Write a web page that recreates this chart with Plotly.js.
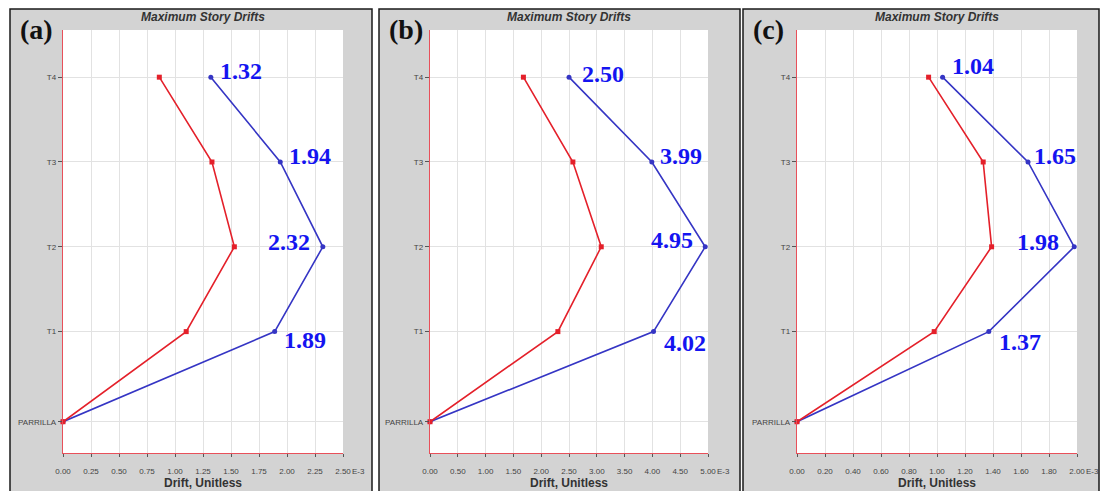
<!DOCTYPE html>
<html>
<head>
<meta charset="utf-8">
<script src="https://cdn.plot.ly/plotly-3.0.1.min.js"></script>
<style>
  html, body { margin: 0; padding: 0; background: #ffffff; }
  #chart { width: 1100px; height: 491px; }
</style>
</head>
<body>
<div id="chart"></div>
<script>
// Story levels (tick labels) and their elevations in metres
const storyLabels = ['PARRILLA', 'T1', 'T2', 'T3', 'T4'];
const storyElevations = [0, 3.4, 6.6, 9.8, 13.0];

// Maximum story drifts (x 1E-3), one red and one blue series per case
const driftBlueA = [0, 1.89, 2.32, 1.94, 1.32];
const driftRedA  = [0, 1.10, 1.53, 1.33, 0.86];
const driftBlueB = [0, 4.02, 4.95, 3.99, 2.50];
const driftRedB  = [0, 2.30, 3.08, 2.57, 1.68];
const driftBlueC = [0, 1.37, 1.98, 1.65, 1.04];
const driftRedC  = [0, 0.98, 1.39, 1.33, 0.94];

// Case tags and axis extents
const caseTags = ['(a)', '(b)', '(c)'];
const axisMax  = [2.5, 5.0, 2.0];
const axisStep = [0.25, 0.5, 0.2];

const W = 1100, H = 491;
const px = x => x / W;
const py = y => (H - y) / H;

// Frame geometry in page pixels
const plotTop = 30, plotBottom = 453;
const panelTop = 9;
const panelBox = [[10, 372], [379, 740], [743, 1099]];
const plotBox  = [[63, 343], [430, 708], [797, 1077]];
// label offsets (px) for the blue values, stories T1..T4
const labelOffsets = [
  [[30, -8], [-34, 5], [30, 6], [30, 6]],
  [[31, -11], [-33, 7], [29, 6], [34, 3]],
  [[31, -10], [-36, 5], [27, 6], [30, 11]]
];

const blueSets = [driftBlueA, driftBlueB, driftBlueC];
const redSets  = [driftRedA, driftRedB, driftRedC];

const RED = '#e4202a', BLUE = '#3535c4', LABEL_BLUE = '#1414f0';
const sans = 'Liberation Sans, Arial, sans-serif';
const serif = 'Liberation Serif, Times New Roman, serif';

const traces = [];
const shapes = [];
const annotations = [];
const layout = {
  width: W, height: H,
  margin: {l: 0, r: 0, t: 0, b: 0},
  paper_bgcolor: '#ffffff',
  plot_bgcolor: '#ffffff',
  showlegend: false,
  shapes: shapes,
  annotations: annotations
};

for (let i = 0; i < 3; i++) {
  const n = i === 0 ? '' : String(i + 1);
  const xa = 'x' + n, ya = 'y' + n;

  traces.push({
    x: blueSets[i], y: storyElevations, xaxis: xa, yaxis: ya,
    type: 'scatter', mode: 'lines+markers',
    line: {color: BLUE, width: 1.6},
    marker: {color: BLUE, size: 5, symbol: 'circle'},
    cliponaxis: false, hoverinfo: 'skip'
  });
  traces.push({
    x: redSets[i], y: storyElevations, xaxis: xa, yaxis: ya,
    type: 'scatter', mode: 'lines+markers',
    line: {color: RED, width: 1.6},
    marker: {color: RED, size: 5, symbol: 'square'},
    cliponaxis: false, hoverinfo: 'skip'
  });

  layout['xaxis' + n] = {
    domain: [px(plotBox[i][0]), px(plotBox[i][1])],
    anchor: ya,
    range: [0, axisMax[i]],
    tick0: 0, dtick: axisStep[i], tickformat: '.2f',
    showgrid: true, gridcolor: '#e2e2e2', gridwidth: 1,
    zeroline: false,
    showline: true, linecolor: '#e8505a', linewidth: 1.2,
    ticks: 'outside', ticklen: 3, tickcolor: '#555555', tickwidth: 1,
    ticklabelstandoff: 7,
    tickfont: {family: sans, size: 8, color: '#444444'},
    title: {text: '<b>Drift, Unitless</b>', standoff: 2,
            font: {family: sans, size: 12, color: '#333333'}},
    automargin: false, fixedrange: true
  };
  layout['yaxis' + n] = {
    domain: [py(plotBottom), py(plotTop)],
    anchor: xa,
    range: [-1.18, 14.78],
    tickmode: 'array', tickvals: storyElevations, ticktext: storyLabels,
    showgrid: true, gridcolor: '#e2e2e2', gridwidth: 1,
    zeroline: false,
    showline: true, linecolor: '#e8505a', linewidth: 1.2,
    ticks: 'outside', ticklen: 4, tickcolor: '#555555', tickwidth: 1,
    tickfont: {family: sans, size: 8, color: '#444444'},
    automargin: false, fixedrange: true
  };

  // gray panel frame, then the white plotting area on top of it
  shapes.push({
    type: 'rect', xref: 'paper', yref: 'paper', layer: 'below',
    x0: px(panelBox[i][0]), x1: px(panelBox[i][1]),
    y0: py(H + 2), y1: py(panelTop),
    fillcolor: '#d3d3d3', line: {color: '#1a1a1a', width: 1.5}
  });
  shapes.push({
    type: 'rect', xref: 'paper', yref: 'paper', layer: 'below',
    x0: px(plotBox[i][0]), x1: px(plotBox[i][1]),
    y0: py(plotBottom), y1: py(plotTop),
    fillcolor: '#ffffff', line: {width: 0}
  });

  // chart title
  annotations.push({
    xref: 'paper', yref: 'paper',
    x: px((plotBox[i][0] + plotBox[i][1]) / 2), y: py(17),
    text: '<b><i>Maximum Story Drifts</i></b>', showarrow: false,
    xanchor: 'center', yanchor: 'middle',
    font: {family: sans, size: 12, color: '#333333'}
  });
  // case tag
  annotations.push({
    xref: 'paper', yref: 'paper',
    x: px(panelBox[i][0] + 8), y: py(29),
    text: '<b>' + caseTags[i] + '</b>', showarrow: false,
    xanchor: 'left', yanchor: 'middle',
    font: {family: serif, size: 28, color: '#111111'}
  });
  // exponent note after the last tick
  annotations.push({
    xref: 'paper', yref: 'paper',
    x: px(plotBox[i][1] + 7), y: py(471),
    text: 'E-3', showarrow: false,
    xanchor: 'left', yanchor: 'middle',
    font: {family: sans, size: 8, color: '#444444'}
  });
  // values of the blue series at each story
  for (let k = 1; k < storyElevations.length; k++) {
    const off = labelOffsets[i][k - 1];
    annotations.push({
      xref: xa, yref: ya,
      x: blueSets[i][k], y: storyElevations[k],
      text: '<b>' + blueSets[i][k].toFixed(2) + '</b>', showarrow: false,
      xanchor: 'center', yanchor: 'middle',
      xshift: off[0], yshift: off[1],
      font: {family: serif, size: 24, color: LABEL_BLUE}
    });
  }
}

Plotly.newPlot('chart', traces, layout, {staticPlot: true, displayModeBar: false});
</script>
</body>
</html>
